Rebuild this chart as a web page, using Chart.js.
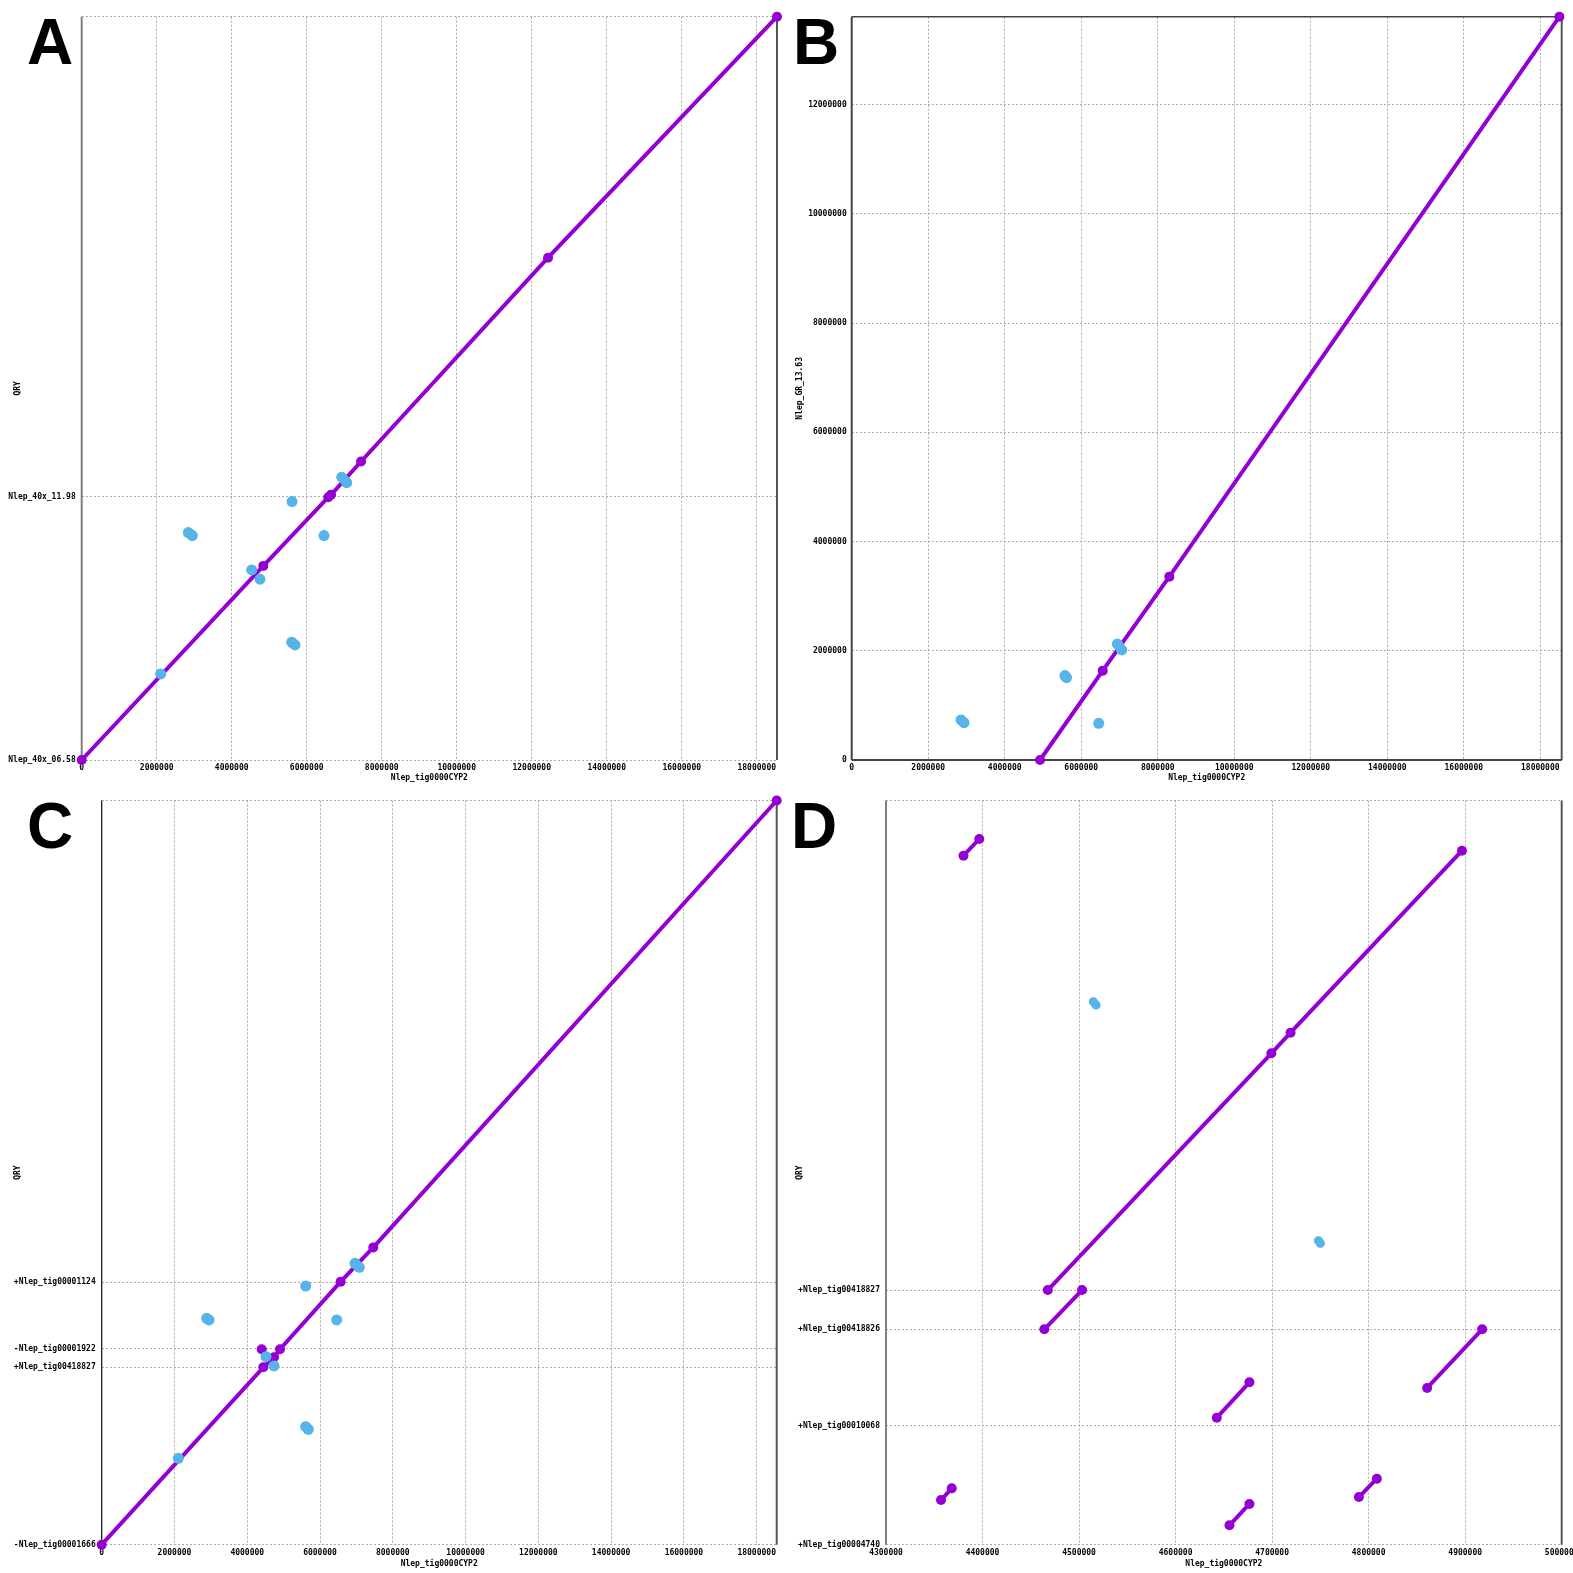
<!DOCTYPE html>
<html>
<head>
<meta charset="utf-8">
<script src="https://cdn.jsdelivr.net/npm/chart.js@4.4.1/dist/chart.umd.min.js"></script>
<style>
  html, body { margin: 0; padding: 0; background: #fff; overflow: hidden; }
  #page { position: relative; width: 1573px; height: 1573px; }
  canvas { position: absolute; }
  .tag { position: absolute; font: bold 64px "Liberation Sans", Arial, sans-serif; line-height: 64px; color: #000; }
</style>
</head>
<body>
<div id="page">
  <canvas id="chartA" width="786" height="786" style="left:0;top:0"></canvas>
  <canvas id="chartB" width="787" height="786" style="left:786px;top:0"></canvas>
  <canvas id="chartC" width="786" height="787" style="left:0;top:786px"></canvas>
  <canvas id="chartD" width="787" height="787" style="left:786px;top:786px"></canvas>
  <div class="tag" style="left:27px;top:10px">A</div>
  <div class="tag" style="left:793px;top:10px">B</div>
  <div class="tag" style="left:27px;top:794px">C</div>
  <div class="tag" style="left:791px;top:794px">D</div>
</div>
<script>
// dotplot data (null = break between alignments)

// panel A
const aXTicks = [0, 2000000, 4000000, 6000000, 8000000, 10000000, 12000000, 14000000, 16000000, 18000000];
const aYTicks = [0, 7020000, 19810000];
const aYLabels = ["Nlep_40x_06.58", "Nlep_40x_11.98", ""];
const aMainX = [0, 4843000, 6576000, 6648000, 7448000, 12435000, 18540000];
const aMainY = [0, 5173000, 7005000, 7067000, 7955000, 13387000, 19810000];
const aMinorX = [2843000, 2949000, null, 5608000, null, 6461000, null, 4533000, null, 4755000, null, 5600000, 5688000, null, 2107000, null, 6933000, 7067000];
const aMinorY = [6061000, 5981000, null, 6888000, null, 5981000, null, 5067000, null, 4819000, null, 3138000, 3067000, null, 2293000, null, 7538000, 7395000];

// panel B
const bXTicks = [0, 2000000, 4000000, 6000000, 8000000, 10000000, 12000000, 14000000, 16000000, 18000000];
const bYTicks = [0, 2000000, 4000000, 6000000, 8000000, 10000000, 12000000];
const bYLabels = ["0", "2000000", "4000000", "6000000", "8000000", "10000000", "12000000"];
const bMainX = [4923000, 6562000, 8303000, 18500000];
const bMainY = [0, 1636000, 3357000, 13610000];
const bMinorX = [2858000, 2936000, null, 5575000, 5615000, null, 6458000, null, 6945000, 7059000];
const bMinorY = [733000, 684000, null, 1545000, 1510000, null, 672000, null, 2125000, 2015000];

// panel C
const cXTicks = [0, 2000000, 4000000, 6000000, 8000000, 10000000, 12000000, 14000000, 16000000, 18000000];
const cYTicks = [0, 4875000, 5378000, 7211000, 20450000];
const cYLabels = ["-Nlep_tig00001666", "+Nlep_tig00418827", "-Nlep_tig00001922", "+Nlep_tig00001124", ""];
const cMainX = [0, 4441000, 4735000, 4900000, 6567000, 7464000, 18550000, null, 4397000];
const cMainY = [0, 4875000, 5150000, 5370000, 7227000, 8170000, 20450000, null, 5370000];
const cMinorX = [5606000, null, 2885000, 2949000, null, 6458000, null, 4515000, null, 4735000, null, 5606000, 5678000, null, 2105000, null, 6961000, 7079000];
const cMinorY = [7109000, null, 6221000, 6175000, null, 6175000, null, 5166000, null, 4911000, null, 3243000, 3171000, null, 2374000, null, 7733000, 7623000];

// panel D
const dXTicks = [4300000, 4400000, 4500000, 4600000, 4700000, 4800000, 4900000, 5000000];
const dYTicks = [0, 123300, 223200, 263900, 771200];
const dYLabels = ["+Nlep_tig00004740", "+Nlep_tig00010068", "+Nlep_tig00418826", "+Nlep_tig00418827", ""];
const dMainX = [4467600, 4699200, 4719100, 4896700, null, 4464000, 4503100, null, 4357000, 4368100, null, 4642700, 4676500, null, 4655800, 4676500, null, 4789900, 4808500, null, 4860600, 4917600, null, 4380300, 4396600];
const dMainY = [263900, 509200, 530600, 719200, null, 223200, 263900, null, 46300, 58400, null, 131600, 168300, null, 20100, 42200, null, 49400, 68400, null, 162400, 223200, null, 714000, 731300];
const dMinorX = [4514800, 4517600, null, 4748000, 4750000];
const dMinorY = [562700, 559300, null, 315000, 312300];

const PURPLE = "#9400d3";
const BLUE = "#56b4e9";
const GRID = "#ababab";
const SMALL_FONT = { family: "DejaVu Sans Mono", size: 8, weight: "bold" };

/**
 * Zip x/y arrays into points; a null x ends the current segment.
 */
function toPoints(xs, ys) {
  return xs.map((x, i) => (x === null ? { x: xs[i - 1], y: null } : { x: x, y: ys[i] }));
}

/**
 * Draw solid lines along chosen sides of the plot area.
 */
const framePlugin = {
  id: "frame",
  beforeDatasetsDraw(chart, args, opts) {
    const { ctx, chartArea: a } = chart;
    ctx.save();
    ["left", "right", "top", "bottom"].forEach((side) => {
      const s = opts[side];
      if (!s) return;
      ctx.strokeStyle = s.color;
      ctx.lineWidth = s.width;
      ctx.beginPath();
      if (side === "left") { ctx.moveTo(a.left, a.top); ctx.lineTo(a.left, a.bottom); }
      if (side === "right") { ctx.moveTo(a.right, a.top); ctx.lineTo(a.right, a.bottom); }
      if (side === "top") { ctx.moveTo(a.left, a.top); ctx.lineTo(a.right, a.top); }
      if (side === "bottom") { ctx.moveTo(a.left, a.bottom); ctx.lineTo(a.right, a.bottom); }
      ctx.stroke();
    });
    ctx.restore();
  }
};

/**
 * Build one dotplot panel.
 */
function drawDotplot(id, p) {
  return new Chart(document.getElementById(id), {
    type: "scatter",
    plugins: [framePlugin],
    data: {
      datasets: [
        {
          data: toPoints(p.minorX, p.minorY),
          showLine: true,
          spanGaps: false,
          borderColor: BLUE,
          backgroundColor: BLUE,
          borderWidth: p.minorWidth,
          borderCapStyle: "round",
          pointRadius: p.minorRadius,
          pointBorderWidth: 0,
          clip: false
        },
        {
          data: toPoints(p.mainX, p.mainY),
          showLine: true,
          spanGaps: false,
          borderColor: PURPLE,
          backgroundColor: PURPLE,
          borderWidth: 4,
          borderCapStyle: "round",
          pointRadius: 5,
          pointBorderWidth: 0,
          clip: false
        }
      ]
    },
    options: {
      responsive: false,
      animation: false,
      layout: { padding: p.padding },
      elements: { line: { tension: 0 } },
      plugins: {
        legend: { display: false },
        tooltip: { enabled: false },
        frame: p.frame
      },
      scales: {
        x: {
          type: "linear",
          min: p.xMin,
          max: p.xMax,
          afterBuildTicks: (s) => { s.ticks = p.xTicks.map((v) => ({ value: v })); },
          afterFit: (s) => { s.height = p.xAxisH; s.paddingLeft = 0; s.paddingRight = 0; },
          grid: { color: GRID, lineWidth: 1, drawTicks: false },
          border: { display: false, dash: [2, 2] },
          ticks: {
            autoSkip: false, minRotation: 0, maxRotation: 0, padding: p.xTickPad,
            color: "#000", font: SMALL_FONT,
            callback: (v) => String(v)
          },
          title: { display: true, text: "Nlep_tig0000CYP2", color: "#000", font: SMALL_FONT, padding: { top: 0, bottom: p.xTitlePad } }
        },
        y: {
          type: "linear",
          min: 0,
          max: p.yMax,
          afterBuildTicks: (s) => { s.ticks = p.yTicks.map((v) => ({ value: v })); },
          afterFit: (s) => { s.width = p.yAxisW; s.paddingTop = 0; s.paddingBottom = 0; },
          grid: { color: GRID, lineWidth: 1, drawTicks: false },
          border: { display: false, dash: [2, 2] },
          ticks: {
            autoSkip: false, padding: p.yTickPad,
            color: "#000", font: SMALL_FONT,
            callback: (v, i) => p.yLabels[i]
          },
          title: { display: true, text: p.yTitle, color: "#000", font: SMALL_FONT, padding: { top: p.yTitlePad, bottom: 0 } }
        }
      }
    }
  });
}

drawDotplot("chartA", {
  xMin: 0, xMax: 18540000, xTicks: aXTicks,
  yMax: 19810000, yTicks: aYTicks, yLabels: aYLabels, yTitle: "QRY",
  mainX: aMainX, mainY: aMainY, minorX: aMinorX, minorY: aMinorY,
  minorWidth: 10, minorRadius: 5.5,
  padding: { left: 0, top: 16.7, right: 9, bottom: 0 },
  yAxisW: 81.7, xAxisH: 26, xTickPad: 3, xTitlePad: 3.2, yTickPad: 6, yTitlePad: 13,
  frame: { left: { color: "#808080", width: 2 }, right: { color: "#555", width: 2 } }
});

drawDotplot("chartB", {
  xMin: 0, xMax: 18560000, xTicks: bXTicks,
  yMax: 13610000, yTicks: bYTicks, yLabels: bYLabels, yTitle: "Nlep_GR_13.63",
  mainX: bMainX, mainY: bMainY, minorX: bMinorX, minorY: bMinorY,
  minorWidth: 10, minorRadius: 5.5,
  padding: { left: 0, top: 16.7, right: 11.3, bottom: 0 },
  yAxisW: 65.7, xAxisH: 26, xTickPad: 3, xTitlePad: 3.2, yTickPad: 5, yTitlePad: 9,
  frame: {
    left: { color: "#444", width: 2 }, right: { color: "#555", width: 2 },
    top: { color: "#444", width: 1.5 }, bottom: { color: "#444", width: 2 }
  }
});

drawDotplot("chartC", {
  xMin: 0, xMax: 18550000, xTicks: cXTicks,
  yMax: 20450000, yTicks: cYTicks, yLabels: cYLabels, yTitle: "QRY",
  mainX: cMainX, mainY: cMainY, minorX: cMinorX, minorY: cMinorY,
  minorWidth: 10, minorRadius: 5.5,
  padding: { left: 0, top: 14.5, right: 9.3, bottom: 0 },
  yAxisW: 101.7, xAxisH: 28.3, xTickPad: 3.2, xTitlePad: 4.2, yTickPad: 6, yTitlePad: 13,
  frame: { left: { color: "#111", width: 1.2 }, right: { color: "#555", width: 2 } }
});

drawDotplot("chartD", {
  xMin: 4300000, xMax: 5000000, xTicks: dXTicks,
  yMax: 771200, yTicks: dYTicks, yLabels: dYLabels, yTitle: "QRY",
  mainX: dMainX, mainY: dMainY, minorX: dMinorX, minorY: dMinorY,
  minorWidth: 8, minorRadius: 4.5,
  padding: { left: 0, top: 14.5, right: 11.3, bottom: 0 },
  yAxisW: 100, xAxisH: 28.3, xTickPad: 3.2, xTitlePad: 4.2, yTickPad: 6, yTitlePad: 9,
  frame: { left: { color: "#808080", width: 2 }, right: { color: "#555", width: 2 } }
});
</script>
</body>
</html>
